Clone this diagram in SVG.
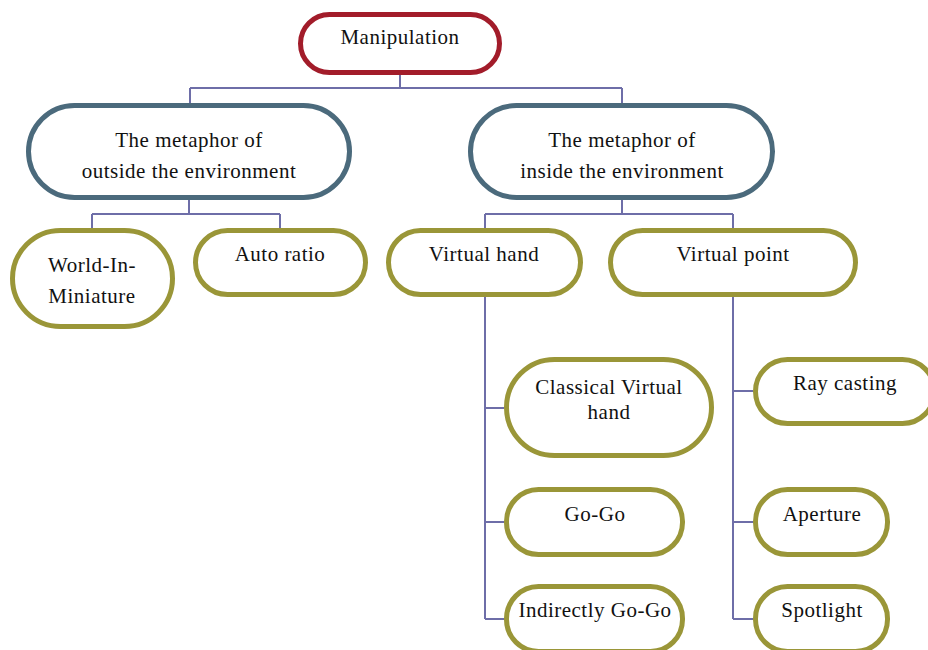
<svg xmlns="http://www.w3.org/2000/svg" width="928" height="650" viewBox="0 0 928 650">
  <style>
    .node rect { fill: #ffffff; stroke-width: 5; }
    .root rect { stroke: #a21c2a; }
    .mid rect { stroke: #4b6a7c; }
    .leaf rect { stroke: #9a9638; }
    text { font-family: "Liberation Serif", "Times New Roman", serif; font-size: 21px; fill: #111111; text-anchor: middle; letter-spacing: 0.5px; }
    .links path { fill: none; stroke: #6e6ea8; stroke-width: 2; }
  </style>
  <rect width="928" height="650" fill="#ffffff"/>

  <g class="links" id="connectors">
    <path d="M400,75 V88 M190,88 H622 M190,88 V103 M622,88 V103"/>
    <path d="M189,200 V214 M92,214 H280 M92,214 V228 M280,214 V228"/>
    <path d="M622,200 V214 M485,214 H733 M485,214 V228 M733,214 V228"/>
    <path d="M485,297 V619 M485,408 H504 M485,522 H504 M485,619 H504"/>
    <path d="M733,297 V619 M733,391 H753 M733,522 H753 M733,619 H753"/>
  </g>

  <g id="manipulation" class="node root">
    <rect x="300.5" y="14.5" width="199" height="58" rx="29"/>
    <text x="400" y="44">Manipulation</text>
  </g>

  <g id="outside" class="node mid">
    <rect x="28.5" y="105.5" width="321" height="92" rx="46"/>
    <text x="189" y="147">The metaphor of</text>
    <text x="189" y="178">outside the environment</text>
  </g>

  <g id="inside" class="node mid">
    <rect x="470.5" y="105.5" width="302" height="92" rx="46"/>
    <text x="622" y="147">The metaphor of</text>
    <text x="622" y="178">inside the environment</text>
  </g>

  <g id="wim" class="node leaf">
    <rect x="12.5" y="230.5" width="160" height="96" rx="48"/>
    <text x="92" y="272">World-In-</text>
    <text x="92" y="303">Miniature</text>
  </g>

  <g id="auto-ratio" class="node leaf">
    <rect x="195.5" y="230.5" width="170" height="64" rx="32"/>
    <text x="280" y="261">Auto ratio</text>
  </g>

  <g id="virtual-hand" class="node leaf">
    <rect x="388.5" y="230.5" width="192" height="64" rx="32"/>
    <text x="484" y="261">Virtual hand</text>
  </g>

  <g id="virtual-point" class="node leaf">
    <rect x="610.5" y="230.5" width="245" height="64" rx="32"/>
    <text x="733" y="261">Virtual point</text>
  </g>

  <g id="classical" class="node leaf">
    <rect x="506.5" y="359.5" width="205" height="96" rx="48"/>
    <text x="609" y="394">Classical Virtual</text>
    <text x="609" y="419">hand</text>
  </g>

  <g id="ray-casting" class="node leaf">
    <rect x="755.5" y="359.5" width="179" height="64" rx="32"/>
    <text x="845" y="390">Ray casting</text>
  </g>

  <g id="go-go" class="node leaf">
    <rect x="506.5" y="489.5" width="176" height="65" rx="32"/>
    <text x="595" y="521">Go-Go</text>
  </g>

  <g id="indirect-go-go" class="node leaf">
    <rect x="506.5" y="586.5" width="176" height="65" rx="32"/>
    <text x="595" y="617">Indirectly Go-Go</text>
  </g>

  <g id="aperture" class="node leaf">
    <rect x="755.5" y="489.5" width="132" height="65" rx="32"/>
    <text x="822" y="521">Aperture</text>
  </g>

  <g id="spotlight" class="node leaf">
    <rect x="755.5" y="586.5" width="132" height="65" rx="32"/>
    <text x="822" y="617">Spotlight</text>
  </g>
</svg>
